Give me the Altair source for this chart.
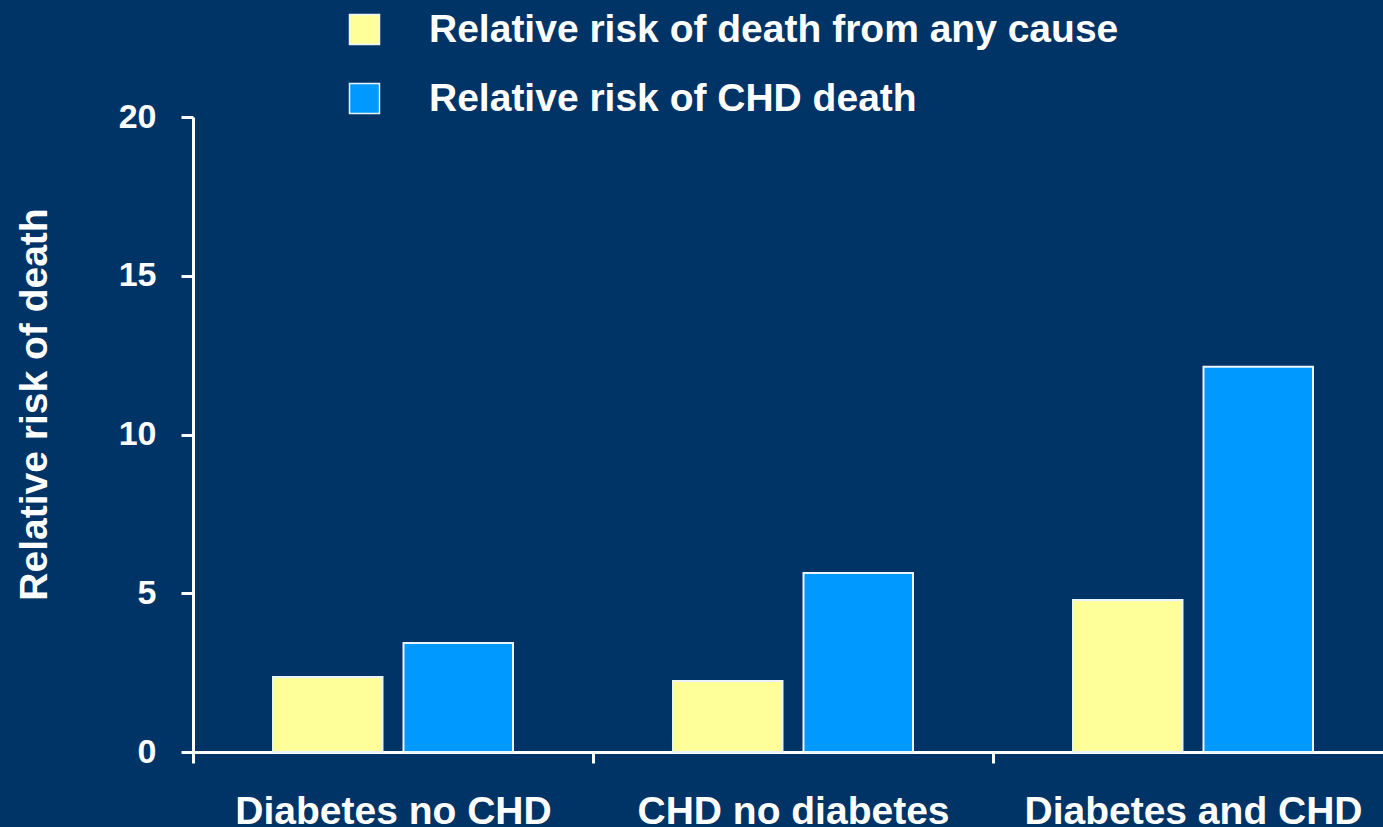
import altair as alt
import pandas as pd

# Patient groups along the x axis
groups = ["Diabetes no CHD", "CHD no diabetes", "Diabetes and CHD"]
# The two outcomes compared in each group
measures = ["Relative risk of death from any cause", "Relative risk of CHD death"]
# Relative risk values per group
any_cause = [2.36, 2.24, 4.79]
chd_death = [3.43, 5.64, 12.13]
bar_colors = ["#FFFF99", "#0099FF"]
y_ticks = [0, 5, 10, 15, 20]

rows = []
for g, a, c in zip(groups, any_cause, chd_death):
    rows.append({"group": g, "measure": measures[0], "value": a})
    rows.append({"group": g, "measure": measures[1], "value": c})
df = pd.DataFrame(rows)

FONT = "Liberation Sans"
BG = "#003366"

chart = (
    alt.Chart(df)
    .mark_bar(stroke="#EAF4FF", strokeWidth=2)
    .encode(
        x=alt.X(
            "group:N",
            sort=groups,
            scale=alt.Scale(range=[0, 1200], paddingInner=0, paddingOuter=0),
            axis=alt.Axis(
                title=None,
                tickBand="extent",
                labelAngle=0,
                labelPadding=29,
                labelFontSize=39,
                labelLimit=1000,
                tickSize=11,
            ),
        ),
        xOffset=alt.XOffset(
            "measure:N",
            sort=measures,
            scale=alt.Scale(paddingInner=0.161, paddingOuter=0.613),
        ),
        y=alt.Y(
            "value:Q",
            scale=alt.Scale(domain=[0, 20], nice=False),
            axis=alt.Axis(
                title="Relative risk of death",
                values=y_ticks,
                tickSize=12,
                labelPadding=25,
                labelFontSize=34,
                titleX=-139,
                titleY=287,
                titleAlign="center",
                titleAngle=-90,
                titleBaseline="bottom",
            ),
        ),
        color=alt.Color(
            "measure:N",
            sort=measures,
            scale=alt.Scale(domain=measures, range=bar_colors),
            legend=alt.Legend(
                title=None,
                orient="none",
                legendX=152,
                legendY=-107,
                symbolType="square",
                symbolSize=900,
                symbolStrokeColor="#EAF4FF",
                symbolStrokeWidth=1.5,
                labelFont=FONT,
                labelFontSize=39,
                labelFontWeight="bold",
                labelColor="white",
                labelOffset=45,
                rowPadding=29,
                padding=0,
                labelLimit=1000,
            ),
        ),
    )
    .properties(
        width=1190,
        height=635,
        autosize=alt.AutoSizeParams(type="none"),
        padding={"left": 193, "top": 117, "right": 0, "bottom": 75},
        background=BG,
    )
    .configure_view(stroke=None)
    .configure_axis(
        domainColor="white",
        domainWidth=3,
        tickColor="white",
        tickWidth=3,
        labelColor="white",
        labelFont=FONT,
        labelFontWeight="bold",
        titleColor="white",
        titleFont=FONT,
        titleFontSize=39,
        titleFontWeight="bold",
        grid=False,
    )
)

chart.save("out.html", embed_options={"renderer": "svg", "actions": False})
